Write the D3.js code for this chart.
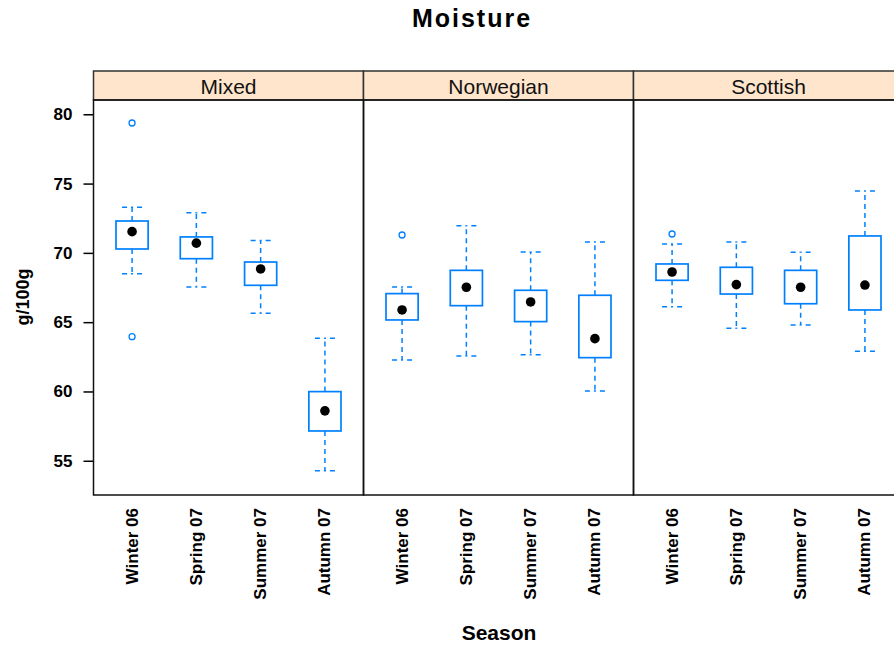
<!DOCTYPE html>
<html>
<head>
<meta charset="utf-8">
<script src="https://cdn.jsdelivr.net/npm/d3@7"></script>
<style>
  body { margin: 0; background: #fff; }
  svg { display: block; font-family: "Liberation Sans", Arial, sans-serif; }
</style>
</head>
<body>
<svg id="chart"></svg>
<script>
// data (g/100g)
const sites = ["Mixed", "Norwegian", "Scottish"]
const seasons = ["Winter 06", "Spring 07", "Summer 07", "Autumn 07"]
const whiskerLow = [[68.5, 67.54, 65.64, 54.28], [62.27, 62.56, 62.65, 60.04], [66.12, 64.56, 64.8, 62.9]]
const q1 = [[70.28, 69.58, 67.66, 57.15], [65.16, 66.19, 65.04, 62.44], [68.02, 67.03, 66.33, 65.88]]
const median = [[71.53, 70.7, 68.84, 58.6], [65.88, 67.52, 66.46, 63.81], [68.62, 67.71, 67.52, 67.68]]
const q3 = [[72.3, 71.15, 69.34, 59.99], [67.06, 68.74, 67.3, 66.94], [69.2, 68.96, 68.74, 71.22]]
const whiskerHigh = [[73.3, 72.9, 70.9, 63.84], [67.54, 71.96, 70.06, 70.79], [70.64, 70.79, 70.04, 74.47]]
const outliers = [[[79.37, 63.95], [], [], []], [[71.29], [], [], []], [[71.36], [], [], []]]
const yTicks = [55, 60, 65, 70, 75, 80]

const W = 894, H = 647
const plotLeft = 93.5, plotTop = 100, plotBottom = 495, stripH = 29
const panelW = 270
const blue = "#0080ff"

const svg = d3.select("#chart").attr("width", W).attr("height", H)

const y = d3.scaleLinear().domain([52.53, 81.03]).range([plotBottom, plotTop])

// title
svg.append("text")
    .attr("x", 472).attr("y", 27)
    .attr("text-anchor", "middle")
    .style("font-size", "25px").style("font-weight", "bold")
    .style("letter-spacing", "2px")
    .text("Moisture")

// y axis
const yAxis = d3.axisLeft(y).tickValues(yTicks).tickSize(10).tickPadding(11)
const yg = svg.append("g")
    .attr("transform", `translate(${plotLeft},0)`)
    .call(yAxis)
yg.select(".domain").remove()
yg.selectAll(".tick line").attr("stroke", "#000").attr("stroke-width", 1.5)
yg.selectAll(".tick text")
    .style("font-size", "17px").style("font-weight", "bold")
    .style("font-family", "'Liberation Sans', Arial, sans-serif")

svg.append("text")
    .attr("transform", `translate(29,297) rotate(-90)`)
    .attr("text-anchor", "middle")
    .style("font-size", "18px").style("font-weight", "bold")
    .text("g/100g")

svg.append("text")
    .attr("x", 499).attr("y", 640)
    .attr("text-anchor", "middle")
    .style("font-size", "21px").style("font-weight", "bold")
    .text("Season")

sites.forEach((site, p) => {
    const x0 = plotLeft + p * panelW
    const x = d3.scaleLinear().domain([0.4, 4.6]).range([x0, x0 + panelW])
    const bw = 0.5 * (x(2) - x(1))
    const cw = 0.85 * bw
    const g = svg.append("g")

    // strip
    g.append("rect")
        .attr("x", x0).attr("y", plotTop - stripH)
        .attr("width", panelW).attr("height", stripH)
        .attr("fill", "#ffe5cc").attr("stroke", "#333").attr("stroke-width", 1.5)
    g.append("text")
        .attr("x", x0 + panelW / 2).attr("y", plotTop - 6)
        .attr("text-anchor", "middle")
        .style("font-size", "21px")
        .attr("fill", "#111")
        .text(site)

    seasons.forEach((s, i) => {
        const cx = x(i + 1)
        // whiskers
        const wh = [[q3[p][i], whiskerHigh[p][i]], [q1[p][i], whiskerLow[p][i]]]
        wh.forEach(([a, b]) => {
            g.append("line")
                .attr("x1", cx).attr("x2", cx)
                .attr("y1", y(a)).attr("y2", y(b))
                .attr("stroke", blue).attr("stroke-width", 1.5)
                .attr("stroke-dasharray", "5,4")
            ;[-1, 1].forEach(dir => {
                g.append("line")
                    .attr("x1", cx).attr("x2", cx + dir * cw / 2)
                    .attr("y1", y(b)).attr("y2", y(b))
                    .attr("stroke", blue).attr("stroke-width", 1.5)
                    .attr("stroke-dasharray", "1,4,5,4")
            })
        })
        // box
        g.append("rect")
            .attr("x", cx - bw / 2).attr("y", y(q3[p][i]))
            .attr("width", bw).attr("height", y(q1[p][i]) - y(q3[p][i]))
            .attr("fill", "none").attr("stroke", blue).attr("stroke-width", 1.7)
        // median dot
        g.append("circle")
            .attr("cx", cx).attr("cy", y(median[p][i])).attr("r", 4.8)
            .attr("fill", "#000")
        // outliers
        outliers[p][i].forEach(v => {
            g.append("circle")
                .attr("cx", cx).attr("cy", y(v)).attr("r", 3)
                .attr("fill", "none").attr("stroke", blue).attr("stroke-width", 1.3)
        })
        // x tick label
        svg.append("text")
            .attr("transform", `translate(${cx},${plotBottom + 13}) rotate(-90)`)
            .attr("text-anchor", "end")
            .attr("dominant-baseline", "central")
            .style("font-size", "17px").style("font-weight", "bold")
            .text(s)
    })

    // panel border
    g.append("rect")
        .attr("x", x0).attr("y", plotTop)
        .attr("width", panelW).attr("height", plotBottom - plotTop)
        .attr("fill", "none").attr("stroke", "#111").attr("stroke-width", 1.5)
})
</script>
</body>
</html>
